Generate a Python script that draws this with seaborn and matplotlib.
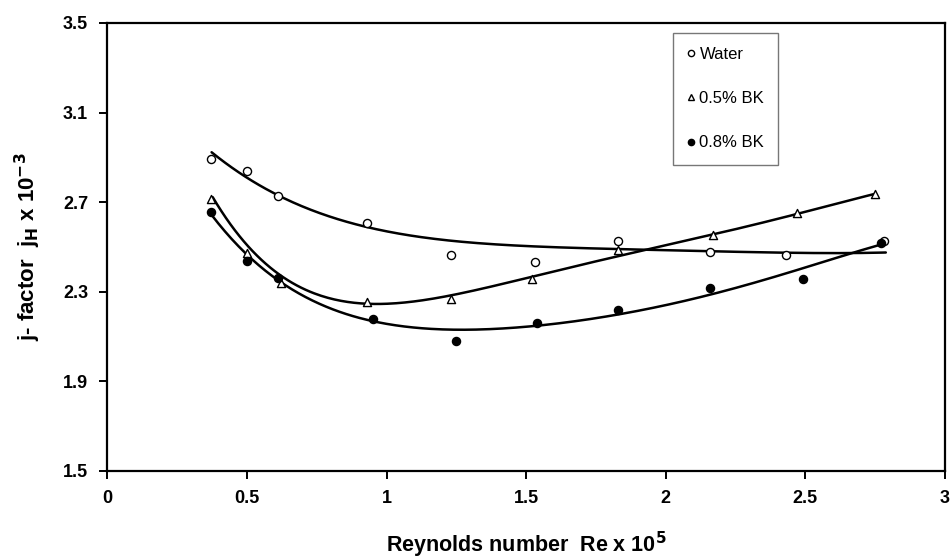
import numpy as np
import pandas as pd
import matplotlib
matplotlib.use("Agg")
import matplotlib.pyplot as plt
from matplotlib.lines import Line2D
import seaborn as sns

re_water = [0.37, 0.50, 0.61, 0.93, 1.23, 1.53, 1.83, 2.16, 2.43, 2.78]
j_water = [2.892, 2.838, 2.729, 2.608, 2.466, 2.434, 2.527, 2.479, 2.463, 2.528]

re_bk05 = [0.37, 0.50, 0.62, 0.93, 1.23, 1.52, 1.83, 2.17, 2.47, 2.75]
j_bk05 = [2.714, 2.472, 2.338, 2.253, 2.268, 2.358, 2.487, 2.554, 2.652, 2.737]

re_bk08 = [0.37, 0.50, 0.61, 0.95, 1.25, 1.54, 1.83, 2.16, 2.49, 2.77]
j_bk08 = [2.658, 2.439, 2.360, 2.177, 2.079, 2.161, 2.220, 2.316, 2.357, 2.519]

# Trend curves
curve_water_x = [0.373, 0.500, 0.615, 0.926, 1.119, 1.227, 1.477, 1.832, 2.154, 2.433, 2.788]
curve_water_y = [2.921, 2.814, 2.725, 2.591, 2.543, 2.527, 2.509, 2.490, 2.479, 2.476, 2.475]

curve_bk05_x = [0.377, 0.500, 0.618, 0.808, 0.929, 1.048, 1.227, 1.477, 1.828, 2.169, 2.397, 2.745]
curve_bk05_y = [2.732, 2.494, 2.367, 2.278, 2.256, 2.256, 2.272, 2.341, 2.473, 2.554, 2.621, 2.737]

curve_bk08_x = [0.373, 0.500, 0.618, 0.808, 0.951, 1.166, 1.245, 1.541, 1.831, 2.157, 2.490, 2.773]
curve_bk08_y = [2.650, 2.452, 2.345, 2.234, 2.167, 2.133, 2.126, 2.150, 2.196, 2.293, 2.400, 2.513]

series_names = ["Water", "0.5% BK", "0.8% BK"]
x_ticks = [0, 0.5, 1, 1.5, 2, 2.5, 3]
x_tick_labels = ["0", "0.5", "1", "1.5", "2", "2.5", "3"]
y_ticks = [1.5, 1.9, 2.3, 2.7, 3.1, 3.5]

sns.set_theme(style="white")
plt.rcParams["font.family"] = ["Liberation Sans", "DejaVu Sans"]

fig = plt.figure(figsize=(9.51, 5.58), dpi=100)
ax = fig.add_axes([0.113, 0.156, 0.8807, 0.8028])

styles = [
    dict(marker="o", facecolor="white"),
    dict(marker="^", facecolor="white"),
    dict(marker="o", facecolor="black"),
]
datasets = [(re_water, j_water), (re_bk05, j_bk05), (re_bk08, j_bk08)]
curves = [(curve_water_x, curve_water_y), (curve_bk05_x, curve_bk05_y),
          (curve_bk08_x, curve_bk08_y)]

for (xs, ys), (cx, cy), st in zip(datasets, curves, styles):
    df = pd.DataFrame({"Re": xs, "j": ys})
    # smooth the traced trend curve
    coef = np.polyfit(cx, cy, 5)
    xf = np.linspace(min(cx), max(cx), 300)
    fit = pd.DataFrame({"Re": xf, "j": np.polyval(coef, xf)})
    sns.lineplot(data=fit, x="Re", y="j", ax=ax, color="black", linewidth=1.8,
                 legend=False, sort=False)
    sns.scatterplot(data=df, x="Re", y="j", ax=ax, marker=st["marker"],
                    s=34, facecolor=st["facecolor"], edgecolor="black",
                    linewidth=1.0, zorder=3, legend=False)

ax.set_xlim(0, 3)
ax.set_ylim(1.5, 3.5)
ax.set_xticks(x_ticks)
ax.set_xticklabels(x_tick_labels)
ax.set_yticks(y_ticks)
ax.set_yticklabels([f"{v:.1f}" for v in y_ticks])

for sp in ax.spines.values():
    sp.set_visible(True)
    sp.set_color("black")
    sp.set_linewidth(1.6)

ax.tick_params(axis="both", which="major", direction="out", length=6, width=1.4,
               color="black", labelsize=13, pad=8, bottom=True, left=True)
for lbl in ax.get_xticklabels() + ax.get_yticklabels():
    lbl.set_fontweight("bold")
    lbl.set_color("black")

ax.set_xlabel(r"Reynolds number  Re x 10$^{\mathbf{5}}$", fontsize=15.5,
              fontweight="bold", labelpad=16, color="black")
ax.set_ylabel(r"j- factor  j$_{\mathbf{H}}$ x 10$^{\mathbf{-3}}$", fontsize=16,
              fontweight="bold", labelpad=14, color="black")

handles = [
    Line2D([], [], linestyle="none", marker="o", markersize=4.5,
           markerfacecolor="white", markeredgecolor="black", markeredgewidth=1.0),
    Line2D([], [], linestyle="none", marker="^", markersize=4.5,
           markerfacecolor="white", markeredgecolor="black", markeredgewidth=1.0),
    Line2D([], [], linestyle="none", marker="o", markersize=4.5,
           markerfacecolor="black", markeredgecolor="black"),
]
leg = ax.legend(handles, series_names, loc="upper left",
                bbox_to_anchor=(0.675, 0.978), fontsize=12, frameon=True,
                fancybox=False, edgecolor="#555555", labelspacing=1.75,
                handlelength=0.5, handletextpad=0.25, borderpad=0.85,
                borderaxespad=0, markerscale=1.0)
leg.get_frame().set_linewidth(1.0)
for t in leg.get_texts():
    t.set_color("black")

fig.savefig("out.png", dpi=100, facecolor="white")
